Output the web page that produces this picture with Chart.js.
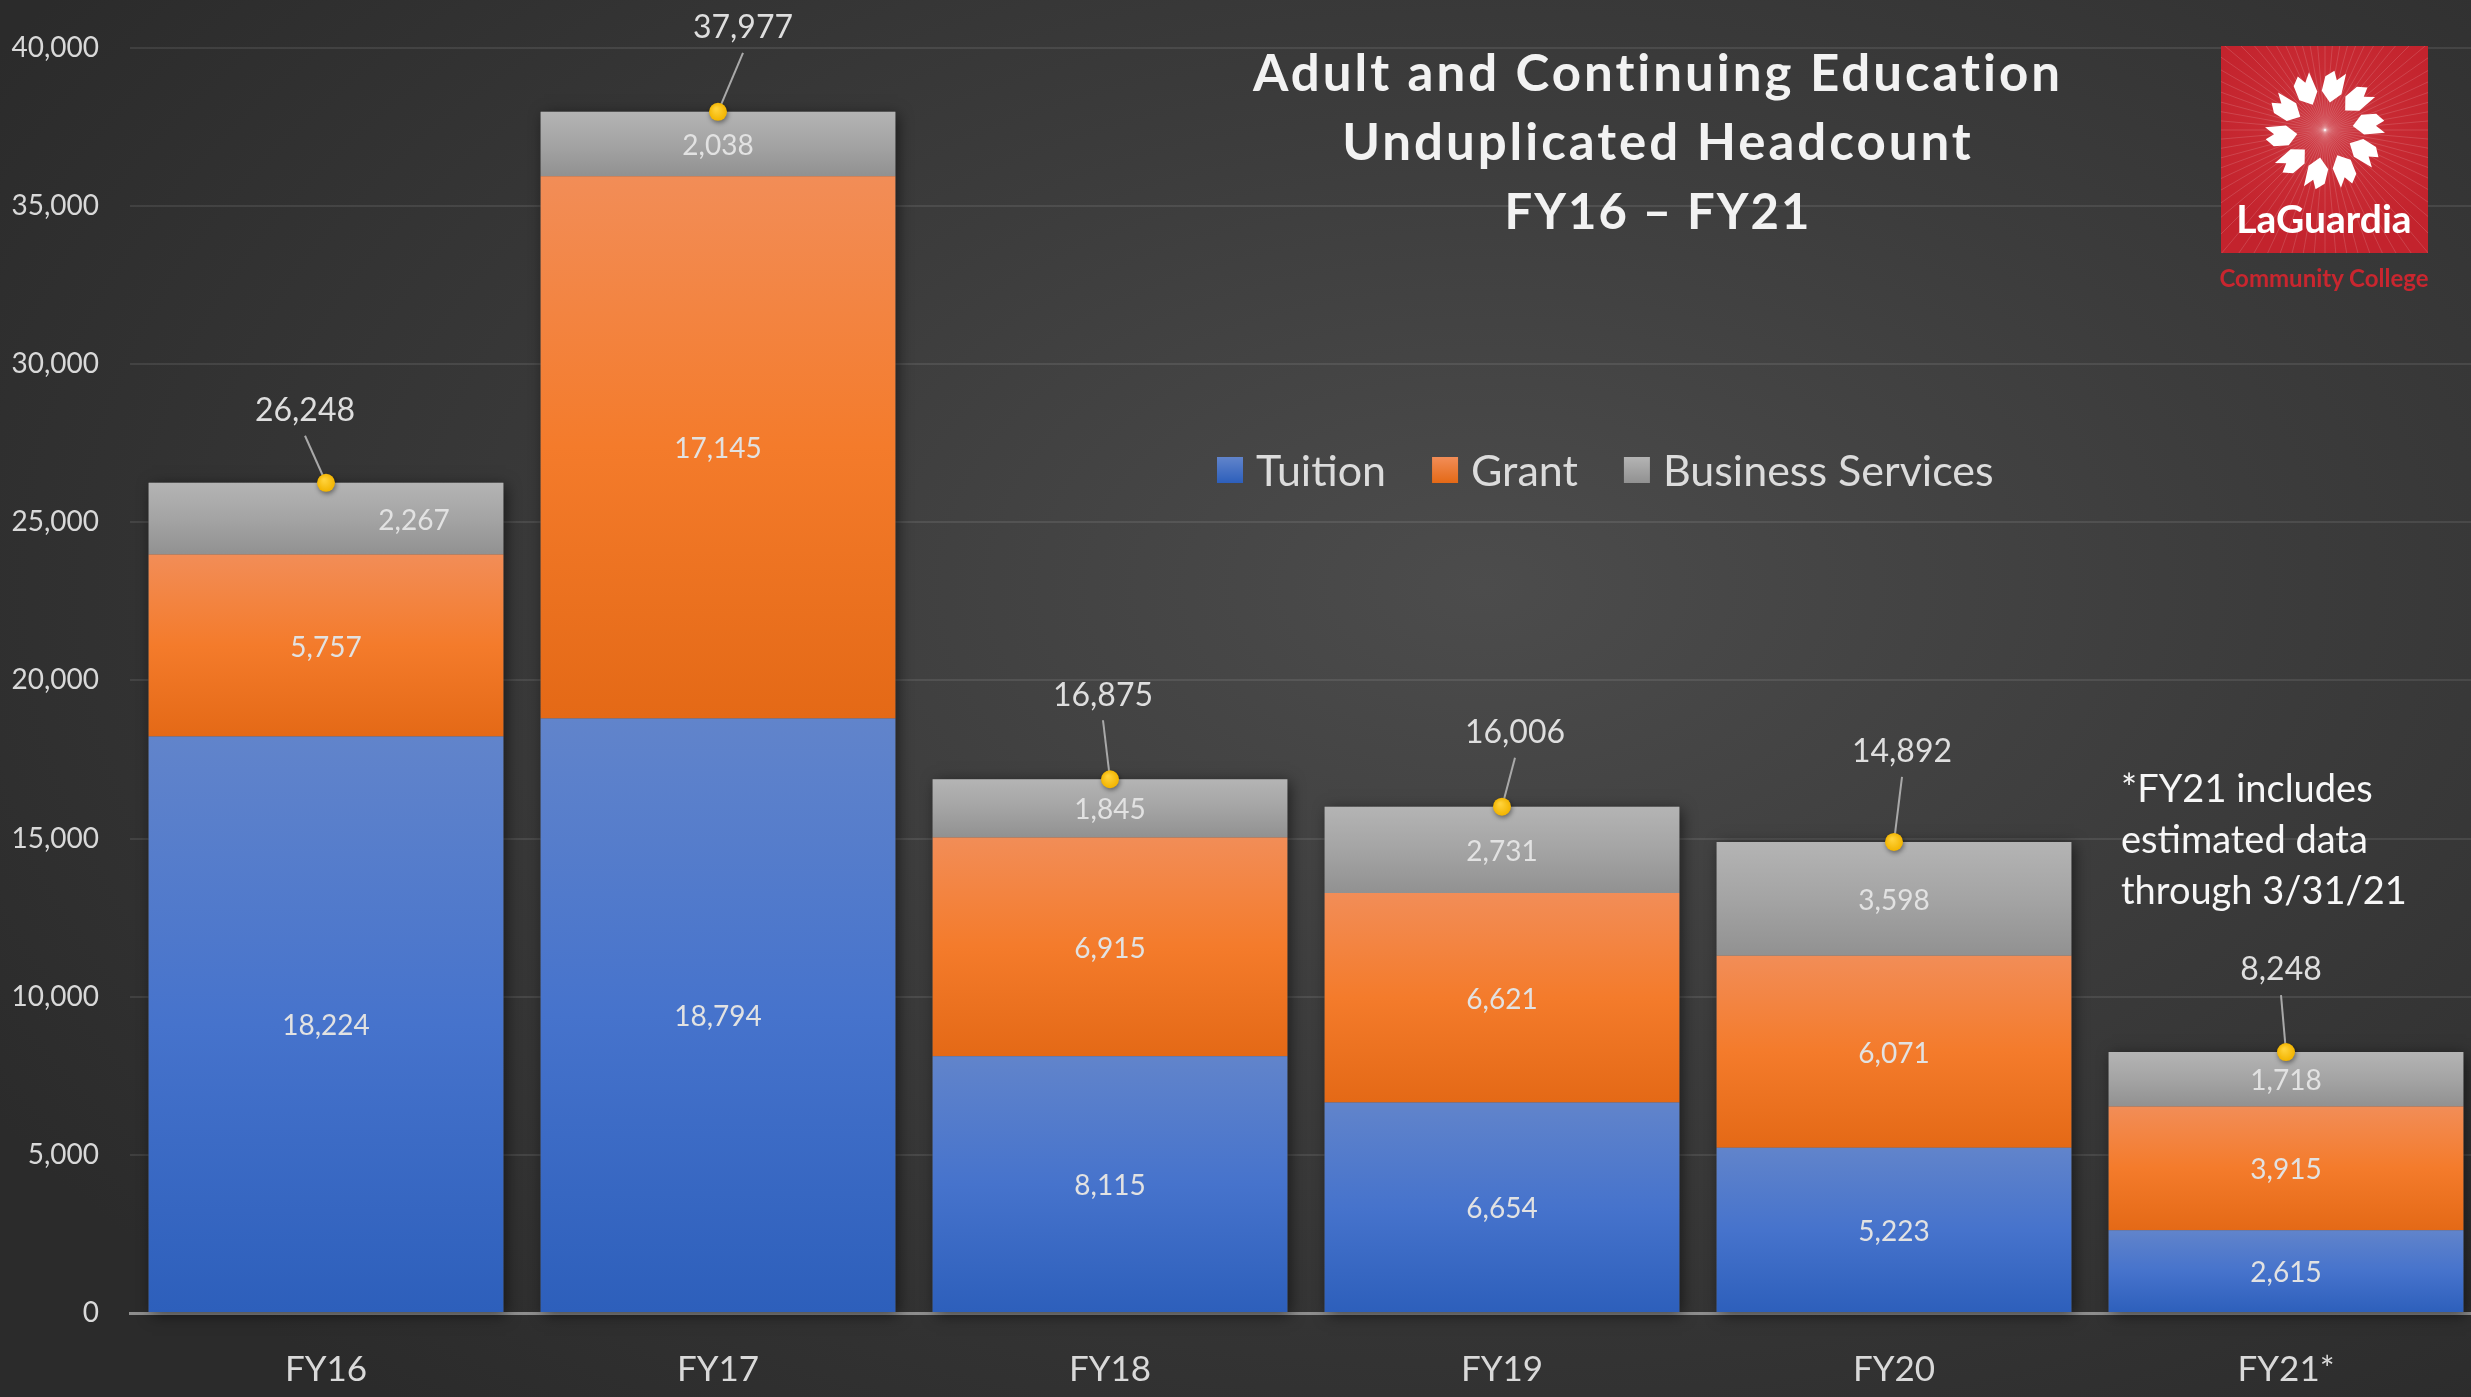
<!DOCTYPE html>
<html>
<head>
<meta charset="utf-8">
<script src="https://cdn.jsdelivr.net/npm/chart.js@4.4.0/dist/chart.umd.min.js"></script>
<style>
  html, body { margin: 0; padding: 0; width: 2471px; height: 1397px; overflow: hidden; }
  body {
    background: radial-gradient(ellipse 70% 75% at 60% 42%, #4c4c4c 0%, #3c3c3c 45%, #2b2b2b 100%);
    font-family: Lato, "Open Sans", sans-serif;
    position: relative;
  }
  #wrap { position: absolute; left: 0; top: 0; width: 2490px; height: 1397px; }
  #title {
    position: absolute; left: 1158px; top: 37px; width: 1000px;
    text-align: center; color: #f2f2f2; font-weight: 700; font-size: 51px;
    line-height: 69px; letter-spacing: 3px;
  }
  #title .l3 { font-size: 49px; letter-spacing: 2px; }
  #note {
    position: absolute; left: 2121px; top: 762px; color: #f7f7f7;
    font-size: 38px; line-height: 51px;
  }
  #logo { position: absolute; left: 2221px; top: 46px; }
  #college {
    position: absolute; left: 2204px; top: 262px; width: 240px; text-align: center;
    color: #c9262f; font-size: 24px; line-height: 32px; font-weight: 700;
  }
</style>
</head>
<body>
<div id="wrap"><canvas id="chart"></canvas></div>
<div id="title">Adult and Continuing Education<br>Unduplicated Headcount<br><span class="l3">FY16 – FY21</span></div>
<div id="note">*FY21 includes<br>estimated data<br>through 3/31/21</div>
<svg id="logo" width="207" height="207" viewBox="0 0 207 207"></svg>
<div id="college">Community College</div>
<script>
// fiscal years and headcount by source
const years = ['FY16', 'FY17', 'FY18', 'FY19', 'FY20', 'FY21*'];
const tuition = [18224, 18794, 8115, 6654, 5223, 2615];
const grant = [5757, 17145, 6915, 6621, 6071, 3915];
const business = [2267, 2038, 1845, 2731, 3598, 1718];
const totals = [26248, 37977, 16875, 16006, 14892, 8248];
const yTicks = [0, 5000, 10000, 15000, 20000, 25000, 30000, 35000, 40000];

const series = [tuition, grant, business];

// where each total label sits relative to its dot (px)
const totalLabelShift = [[-21, -72], [25, -84], [-7, -84], [13, -74], [8, -90], [-5, -82]];

const fills = [
  ['#6184cb', '#4673cc', '#2d5fbb'],
  ['#f28d57', '#f47b2b', '#e46916'],
  ['#b4b4b4', '#a4a4a4', '#919191'],
];

const fmt = (v) => v.toLocaleString('en-US');

function segFill(di) {
  return (ctx) => {
    const chart = ctx.chart;
    const stops = fills[di];
    if (ctx.type !== 'data' || !chart.chartArea) return stops[1];
    const y = chart.scales.y;
    const i = ctx.dataIndex;
    let base = 0;
    for (let k = 0; k < di; k++) base += series[k][i];
    const top = y.getPixelForValue(base + series[di][i]);
    const bot = y.getPixelForValue(base);
    if (!isFinite(top) || !isFinite(bot) || top === bot) return stops[1];
    const g = chart.ctx.createLinearGradient(0, top, 0, bot);
    g.addColorStop(0, stops[0]);
    g.addColorStop(0.5, stops[1]);
    g.addColorStop(1, stops[2]);
    return g;
  };
}

const labelsPlugin = {
  id: 'labels',
  beforeDatasetsDraw(chart) {
    // soft shadow behind each full stack
    const c = chart.ctx;
    const topMeta = chart.getDatasetMeta(2);
    const baseMeta = chart.getDatasetMeta(0);
    c.save();
    c.shadowColor = 'rgba(0,0,0,0.55)';
    c.shadowBlur = 14;
    c.shadowOffsetX = 3;
    c.shadowOffsetY = 3;
    c.fillStyle = '#555';
    topMeta.data.forEach((bar, i) => {
      const base = baseMeta.data[i].base;
      c.fillRect(bar.x - bar.width / 2, bar.y, bar.width, base - bar.y);
    });
    c.restore();
  },
  afterDatasetsDraw(chart) {
    const c = chart.ctx;
    c.save();
    c.textAlign = 'center';
    c.textBaseline = 'middle';
    // segment values
    c.font = '28px Lato';
    c.fillStyle = '#e2e2e2';
    series.forEach((vals, di) => {
      chart.getDatasetMeta(di).data.forEach((bar, i) => {
        let x = bar.x;
        if (di === 2 && i === 0) x += 88; // sits beside the leader dot
        c.fillText(fmt(vals[i]), x, (bar.y + bar.base) / 2 + 2);
      });
    });
    // totals with leader lines
    c.font = '32px Lato';
    chart.getDatasetMeta(3).data.forEach((pt, i) => {
      const lx = pt.x + totalLabelShift[i][0];
      const ly = pt.y + totalLabelShift[i][1];
      c.strokeStyle = '#a9a9a9';
      c.lineWidth = 2;
      c.beginPath();
      c.moveTo(lx, ly + 25);
      c.lineTo(pt.x, pt.y);
      c.stroke();
      c.fillStyle = '#dedede';
      c.fillText(fmt(totals[i]), lx, ly);
    });
    c.restore();
  },
  afterDraw(chart) {
    // dots above the leader lines
    const c = chart.ctx;
    c.save();
    chart.getDatasetMeta(3).data.forEach((pt) => {
      c.shadowColor = 'rgba(0,0,0,0.45)';
      c.shadowBlur = 5;
      c.shadowOffsetX = 1;
      c.shadowOffsetY = 2;
      const g = c.createRadialGradient(pt.x - 2, pt.y - 3, 1, pt.x, pt.y, 9);
      g.addColorStop(0, '#ffd23a');
      g.addColorStop(1, '#f2b400');
      c.fillStyle = g;
      c.beginPath();
      c.arc(pt.x, pt.y, 9, 0, Math.PI * 2);
      c.fill();
    });
    c.restore();

    // legend
    c.save();
    c.font = '43px Lato';
    c.textBaseline = 'middle';
    let x = 1217;
    const yc = 470;
    series.forEach((_, di) => {
      const ds = chart.data.datasets[di];
      const g = c.createLinearGradient(0, yc - 13, 0, yc + 13);
      g.addColorStop(0, fills[di][0]);
      g.addColorStop(1, fills[di][2]);
      c.fillStyle = g;
      c.fillRect(x, yc - 13, 26, 26);
      x += 26 + 13;
      c.fillStyle = '#dcdcdc';
      c.fillText(ds.label, x, yc + 2);
      x += c.measureText(ds.label).width + 46;
    });
    c.restore();
  },
};

new Chart(document.getElementById('chart'), {
  data: {
    labels: years,
    datasets: [
      { type: 'bar', label: 'Tuition', data: tuition, backgroundColor: segFill(0), stack: 'a' },
      { type: 'bar', label: 'Grant', data: grant, backgroundColor: segFill(1), stack: 'a' },
      { type: 'bar', label: 'Business Services', data: business, backgroundColor: segFill(2), stack: 'a' },
      {
        type: 'line', label: 'Total', data: totals, stack: 'total',
        showLine: false, pointRadius: 0, pointHoverRadius: 0,
      },
    ],
  },
  options: {
    responsive: true,
    maintainAspectRatio: false,
    animation: false,
    events: [],
    datasets: { bar: { barPercentage: 0.905, categoryPercentage: 1, borderWidth: 0 } },
    layout: { padding: { top: 44, right: 8, left: 0, bottom: 0 } },
    plugins: { legend: { display: false }, tooltip: { enabled: false } },
    scales: {
      x: {
        stacked: true,
        grid: { color: 'rgba(0,0,0,0)', drawTicks: false },
        border: { display: true, color: '#8e8e8e', width: 3 },
        ticks: { color: '#d9d9d9', font: { family: 'Lato', size: 35 }, padding: 36 },
        afterFit: (s) => { s.height = 84; },
      },
      y: {
        stacked: true,
        min: 0, max: 40000,
        afterBuildTicks: (s) => { s.ticks = yTicks.map((v) => ({ value: v })); },
        grid: {
          color: (ctx) => (ctx.tick && ctx.tick.value === 0 ? 'rgba(0,0,0,0)' : 'rgba(255,255,255,0.09)'),
          lineWidth: 2, drawTicks: false,
        },
        border: { display: false },
        ticks: { color: '#d9d9d9', font: { family: 'Lato', size: 28 }, padding: 31, callback: (v) => fmt(v) },
        afterFit: (s) => { s.width = 130; },
      },
    },
  },
  plugins: [labelsPlugin],
});

// logo
(function drawLogo() {
  const svg = document.getElementById('logo');
  const cx = 104, cy = 84;
  let html = '<defs><radialGradient id="rg" cx="50%" cy="40%" r="60%">' +
    '<stop offset="0" stop-color="#d0434c"/><stop offset="0.5" stop-color="#c82a33"/><stop offset="1" stop-color="#c3232d"/></radialGradient>' +
    '<clipPath id="cp"><rect width="207" height="207"/></clipPath></defs>' +
    '<rect width="207" height="207" fill="url(#rg)"/><g clip-path="url(#cp)" stroke="rgba(255,255,255,0.14)" stroke-width="1">';
  for (let a = 0; a < 360; a += 5) {
    const r = (a * Math.PI) / 180;
    html += `<line x1="${cx}" y1="${cy}" x2="${cx + 220 * Math.cos(r)}" y2="${cy + 220 * Math.sin(r)}"/>`;
  }
  html += '</g>';
  for (let k = 0; k < 10; k++) {
    const ang = k * 36 + 10;
    html += `<g transform="translate(${cx},${cy}) rotate(${ang})">` +
      '<polygon points="0,-28 10,-38 11,-59 3,-51 -1,-60 -9,-53 -10,-38" fill="#fff"/></g>';
  }
  html += '<text x="103" y="187" text-anchor="middle" font-family="Lato" font-weight="700" font-size="39" fill="#fff">LaGuardia</text>';
  svg.innerHTML = html;
})();
</script>
</body>
</html>
